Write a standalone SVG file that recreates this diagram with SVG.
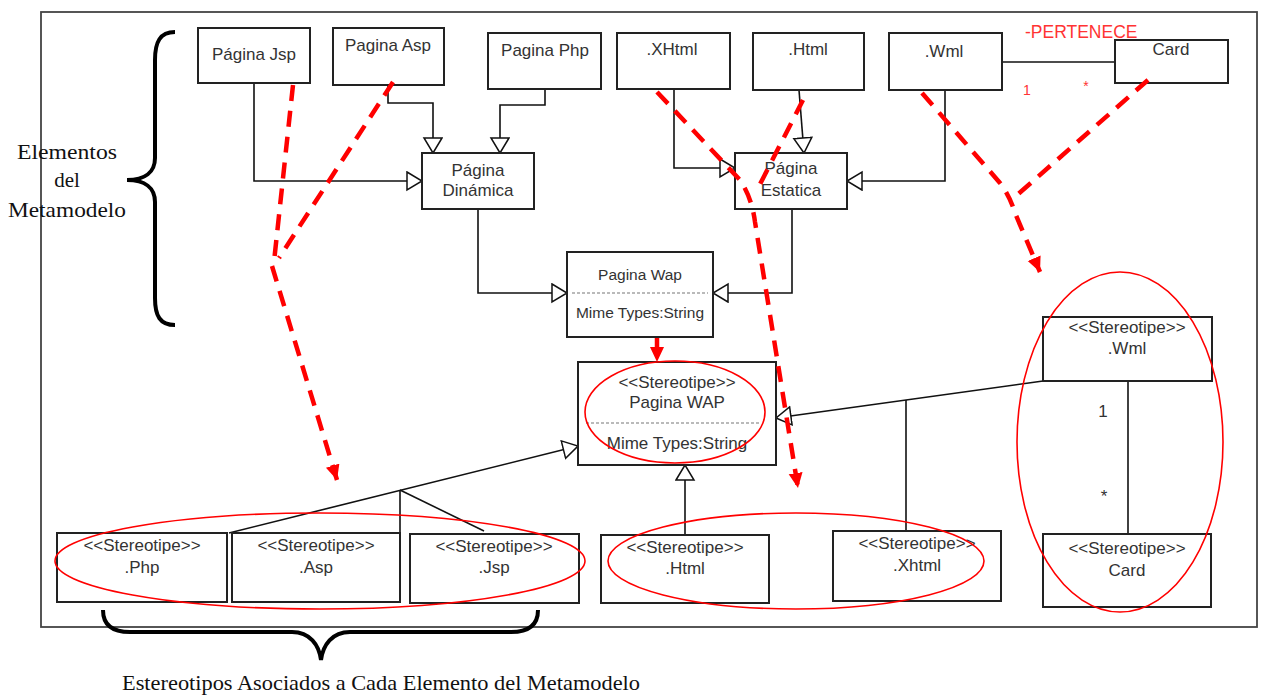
<svg xmlns="http://www.w3.org/2000/svg" width="1261" height="698" viewBox="0 0 1261 698">
<style>
.box{fill:#fff;stroke:#222;stroke-width:2}
.t{font-family:"Liberation Sans",Arial,sans-serif;font-size:17px;fill:#333;text-anchor:middle}
.tw{font-family:"Liberation Sans",Arial,sans-serif;font-size:15.5px;fill:#333;text-anchor:middle}
.sep{stroke:#777;stroke-width:1.2;stroke-dasharray:3 2}
.c{fill:none;stroke:#111;stroke-width:1.6}
.ca{fill:none;stroke:#111;stroke-width:1.6;marker-end:url(#tri)}
.rd{fill:none;stroke:#f00;stroke-width:4.5;stroke-dasharray:16 10}
.rda{fill:none;stroke:#f00;stroke-width:4.5;stroke-dasharray:16 10;marker-end:url(#rarr)}
.ell{fill:none;stroke:#f00;stroke-width:1.6}
.serif{font-family:"Liberation Serif","Times New Roman",serif;font-size:21px;fill:#111}
.red{font-family:"Liberation Sans",Arial,sans-serif;fill:#f33}
.brace{fill:none;stroke:#000;stroke-width:4}
</style>
<defs>
<marker id="tri" markerUnits="userSpaceOnUse" markerWidth="20" markerHeight="22" refX="16" refY="10" orient="auto">
<path d="M1,1 L16,10 L1,19 Z" fill="#fff" stroke="#111" stroke-width="1.5"/>
</marker>
<marker id="rarr" markerUnits="userSpaceOnUse" markerWidth="18" markerHeight="16" refX="15" refY="7" orient="auto">
<path d="M0,0 L15,7 L0,14 Z" fill="#f00"/>
</marker>
</defs>
<rect width="1261" height="698" fill="#fff"/>
<rect x="41" y="12" width="1216" height="615" fill="none" stroke="#444" stroke-width="1.8"/>

<g id="label-elementos">
<text class="serif" x="67" y="159" text-anchor="middle" textLength="100" lengthAdjust="spacingAndGlyphs">Elementos</text>
<text class="serif" x="67" y="187" text-anchor="middle">del</text>
<text class="serif" x="67" y="217" text-anchor="middle" textLength="118" lengthAdjust="spacingAndGlyphs">Metamodelo</text>
<path class="brace" d="M175,32 C160,32 155,42 155,60 L155,158 C155,172 145,180 127,180 C145,180 155,188 155,202 L155,298 C155,316 160,325 175,325"/>
</g>
<g id="label-estereotipos">
<path class="brace" d="M103,610 C103,625 112,632 130,632 L292,632 C310,632 319,645 321,660 C323,645 332,632 350,632 L511,632 C529,632 538,625 538,610"/>
<text class="serif" x="122" y="690" textLength="518" lengthAdjust="spacingAndGlyphs">Estereotipos Asociados a Cada Elemento del Metamodelo</text>
</g>

<g id="connectors">
<path class="ca" d="M254,83 V181 H422"/>
<path class="ca" d="M388,85 V103 H433 V153"/>
<path class="ca" d="M545,89 V105 H500 V153"/>
<path class="ca" d="M674,89 V168 H735"/>
<path class="ca" d="M799,90 L804,153"/>
<path class="ca" d="M945,90 V181 H847"/>
<path class="ca" d="M478,209 V293 H567"/>
<path class="ca" d="M792,209 V293 H713"/>
<path class="c" d="M1002,62 H1115"/>
<path class="ca" d="M229,533 L578,446"/>
<path class="c" d="M400,490 V533"/>
<path class="c" d="M400,490 L484,531"/>
<path class="ca" d="M685,535 V465"/>
<path class="ca" d="M1043,381 L776,418"/>
<path class="c" d="M906,400 V531"/>
<path class="c" d="M1128,381 V534"/>
</g>

<g id="node-jsp"><rect class="box" x="198" y="28" width="112" height="55"/><text class="t" x="254" y="60">Página Jsp</text></g>
<g id="node-asp"><rect class="box" x="333" y="28" width="111" height="57"/><text class="t" x="388" y="51">Pagina Asp</text></g>
<g id="node-php"><rect class="box" x="488" y="33" width="113" height="56"/><text class="t" x="545" y="56">Pagina Php</text></g>
<g id="node-xhtml"><rect class="box" x="617" y="33" width="113" height="56"/><text class="t" x="672" y="55">.XHtml</text></g>
<g id="node-html"><rect class="box" x="753" y="33" width="111" height="57"/><text class="t" x="808" y="55">.Html</text></g>
<g id="node-wml"><rect class="box" x="889" y="33" width="113" height="57"/><text class="t" x="944" y="57">.Wml</text></g>
<g id="node-card"><rect class="box" x="1115" y="40" width="113" height="43"/><text class="t" x="1171" y="55">Card</text></g>
<g id="node-dinamica"><rect class="box" x="422" y="153" width="112" height="56"/><text class="t" x="478" y="176">Página</text><text class="t" x="478" y="196">Dinámica</text></g>
<g id="node-estatica"><rect class="box" x="735" y="153" width="112" height="56"/><text class="t" x="791" y="174">Página</text><text class="t" x="791" y="196">Estatica</text></g>
<g id="node-paginawap"><rect class="box" x="567" y="252" width="146" height="85"/><text class="tw" x="640" y="280">Pagina Wap</text><line class="sep" x1="572" y1="293" x2="708" y2="293"/><text class="tw" x="640" y="318">Mime Types:String</text></g>
<g id="node-st-wap"><rect class="box" x="578" y="362" width="198" height="103"/><text class="t" x="677" y="388">&lt;&lt;Stereotipe&gt;&gt;</text><text class="t" x="677" y="408">Pagina WAP</text><line class="sep" x1="586" y1="423" x2="760" y2="423"/><text class="t" x="677" y="449">Mime Types:String</text></g>
<g id="node-st-php"><rect class="box" x="57" y="533" width="170" height="69"/><text class="t" x="142" y="551">&lt;&lt;Stereotipe&gt;&gt;</text><text class="t" x="142" y="573">.Php</text></g>
<g id="node-st-asp"><rect class="box" x="232" y="533" width="168" height="69"/><text class="t" x="316" y="551">&lt;&lt;Stereotipe&gt;&gt;</text><text class="t" x="316" y="573">.Asp</text></g>
<g id="node-st-jsp"><rect class="box" x="410" y="534" width="169" height="69"/><text class="t" x="494" y="552">&lt;&lt;Stereotipe&gt;&gt;</text><text class="t" x="494" y="573">.Jsp</text></g>
<g id="node-st-html"><rect class="box" x="601" y="535" width="168" height="68"/><text class="t" x="685" y="553">&lt;&lt;Stereotipe&gt;&gt;</text><text class="t" x="685" y="574">.Html</text></g>
<g id="node-st-xhtml"><rect class="box" x="833" y="531" width="168" height="70"/><text class="t" x="917" y="549">&lt;&lt;Stereotipe&gt;&gt;</text><text class="t" x="917" y="571">.Xhtml</text></g>
<g id="node-st-card"><rect class="box" x="1043" y="534" width="168" height="73"/><text class="t" x="1127" y="554">&lt;&lt;Stereotipe&gt;&gt;</text><text class="t" x="1127" y="576">Card</text></g>
<g id="node-st-wml"><rect class="box" x="1043" y="317" width="169" height="64"/><text class="t" x="1127" y="333">&lt;&lt;Stereotipe&gt;&gt;</text><text class="t" x="1127" y="354">.Wml</text></g>

<g id="multiplicities">
<text class="t" x="1103" y="417" font-size="14">1</text>
<text class="t" x="1104" y="502" font-size="14">*</text>
<text class="red" x="1025" y="38" font-size="17.5">-PERTENECE</text>
<text class="red" x="1027" y="95" font-size="14" text-anchor="middle">1</text>
<text class="red" x="1086" y="91" font-size="14" text-anchor="middle">*</text>
</g>

<g id="mapping">
<path class="rd" d="M293,85 L274,262"/>
<path class="rd" d="M393,82 L279,258"/>
<path class="rda" d="M272,266 L337,480"/>
<path class="rd" d="M803,100 L756,192"/>
<path class="rda" d="M657,92 L740,180 Q752,198 755,222 L798,488"/>
<path class="rd" d="M1148,80 L1016,196"/>
<path class="rda" d="M922,93 L1000,183 Q1010,196 1015,213 L1040,272"/>
<path class="rda" d="M657,338 L657,362"/>
<ellipse class="ell" cx="675" cy="412" rx="90" ry="51"/>
<ellipse class="ell" cx="320" cy="561" rx="265" ry="48"/>
<ellipse class="ell" cx="796" cy="561" rx="188" ry="48"/>
<ellipse class="ell" cx="1120" cy="442" rx="103" ry="170"/>
</g>
</svg>
